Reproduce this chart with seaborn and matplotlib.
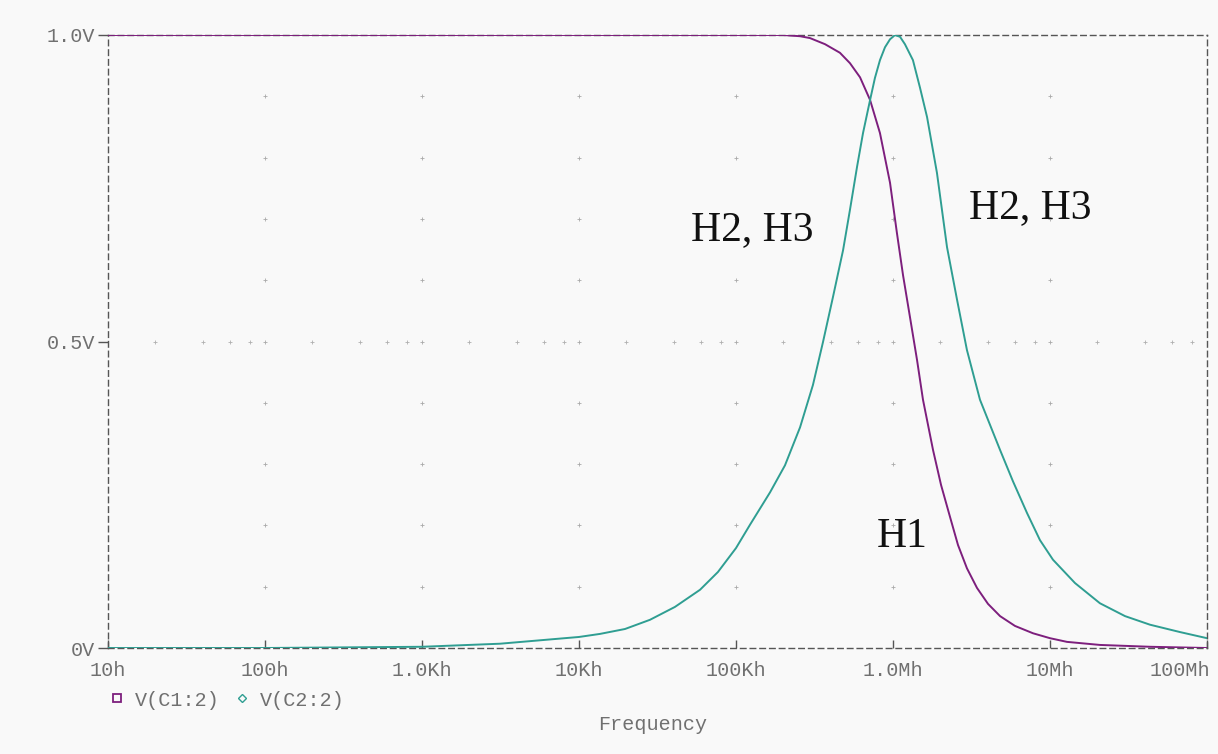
import numpy as np
import pandas as pd
import matplotlib
matplotlib.use("Agg")
import matplotlib.pyplot as plt
import matplotlib.transforms as mtransforms
from matplotlib.lines import Line2D
import seaborn as sns

# ---- data (frequency given as log10(Hz)) ----
logf_c1 = [1.0, 3.0, 5.0, 5.299, 5.408, 5.471, 5.567, 5.662, 5.726, 5.790, 5.854,
           5.917, 5.981, 6.025, 6.064, 6.108, 6.153, 6.191, 6.255, 6.306, 6.363,
           6.414, 6.471, 6.535, 6.605, 6.682, 6.777, 6.892, 7.0, 7.108, 7.318,
           7.637, 8.0]
v_c1 = [1.0, 1.0, 1.0, 1.0, 0.998, 0.995, 0.985, 0.971, 0.954, 0.931, 0.894,
        0.840, 0.759, 0.677, 0.608, 0.540, 0.470, 0.405, 0.323, 0.266, 0.214,
        0.168, 0.130, 0.098, 0.072, 0.052, 0.036, 0.024, 0.016, 0.010, 0.005,
        0.002, 0.0]

logf_c2 = [1.0, 2.0, 3.0, 3.497, 4.0, 4.134, 4.293, 4.452, 4.611, 4.771, 4.885,
           5.0, 5.089, 5.217, 5.312, 5.408, 5.490, 5.554, 5.618, 5.682, 5.726,
           5.771, 5.809, 5.854, 5.885, 5.917, 5.949, 5.981, 6.013, 6.045, 6.076,
           6.127, 6.172, 6.217, 6.280, 6.344, 6.408, 6.471, 6.554, 6.682, 6.764,
           6.854, 6.936, 7.019, 7.159, 7.318, 7.478, 7.637, 7.828, 8.0]
v_c2 = [0.0, 0.0, 0.002, 0.007, 0.018, 0.023, 0.031, 0.046, 0.067, 0.095, 0.124,
        0.163, 0.201, 0.254, 0.298, 0.360, 0.429, 0.499, 0.573, 0.649, 0.715,
        0.785, 0.840, 0.894, 0.930, 0.959, 0.980, 0.993, 1.0, 0.997, 0.985,
        0.959, 0.914, 0.866, 0.775, 0.654, 0.568, 0.486, 0.405, 0.323, 0.272,
        0.220, 0.176, 0.144, 0.106, 0.073, 0.052, 0.038, 0.026, 0.016]

x_ticks = [10, 100, 1e3, 1e4, 1e5, 1e6, 1e7, 1e8]
x_tick_labels = ["10h", "100h", "1.0Kh", "10Kh", "100Kh", "1.0Mh", "10Mh", "100Mh"]
y_ticks = [0.0, 0.5, 1.0]
y_tick_labels = ["0V", "0.5V", "1.0V"]
series_names = ["V(C1:2)", "V(C2:2)"]

annotations = [("H2, H3", 51.6e3, 0.666), ("H2, H3", 3.05e6, 0.701), ("H1", 791e3, 0.165)]

# ---- style ----
sns.set_theme(style="white")
mono = ["Liberation Mono", "DejaVu Sans Mono"]
serif = ["Liberation Serif", "DejaVu Serif"]
plt.rcParams['font.family'] = mono

bg = "#f9f9f9"
purple = "#7d1f7d"
green = "#2f9e92"
gray_txt = "#707070"
frame = "#555555"

fig = plt.figure(figsize=(12.18, 7.54), dpi=100, facecolor=bg)
ax = fig.add_axes([108/1218, 1-648/754, (1207-108)/1218, (648-35)/754])
ax.set_facecolor(bg)

df1 = pd.DataFrame({"f": 10.0 ** np.array(logf_c1), "v": v_c1})
df2 = pd.DataFrame({"f": 10.0 ** np.array(logf_c2), "v": v_c2})

# grid dots
grid_x = [1e2, 1e3, 1e4, 1e5, 1e6, 1e7]
grid_y = [0.1, 0.2, 0.3, 0.4, 0.5, 0.6, 0.7, 0.8, 0.9]
gx, gy = np.meshgrid(grid_x, grid_y)
ax.plot(gx.ravel(), gy.ravel(), ls="none", marker="+", ms=3, mew=0.6, color="#aaaaaa", zorder=1)
minor_x = [m * 10**d for d in range(1, 8) for m in (2, 4, 6, 8)]
ax.plot(minor_x, [0.5]*len(minor_x), ls="none", marker="+", ms=3, mew=0.6, color="#b0b0b0", zorder=1)

sns.lineplot(data=df1, x="f", y="v", ax=ax, color=purple, lw=1.4, sort=False, zorder=3)
sns.lineplot(data=df2, x="f", y="v", ax=ax, color=green, lw=1.4, sort=False, zorder=3)

ax.set_xscale("log")
ax.set_xlim(10, 1e8)
ax.set_ylim(0, 1.0)
ax.set_xticks(x_ticks)
ax.set_xticklabels(x_tick_labels)
ax.minorticks_off()
ax.set_yticks(y_ticks)
ax.set_yticklabels(y_tick_labels)
ax.tick_params(axis="x", direction="in", length=6, width=1, color=frame, pad=9,
               labelsize=14.5, labelcolor=gray_txt, bottom=True)
ax.tick_params(axis="y", direction="out", length=7, width=1, color=frame, pad=2,
               labelsize=14.5, labelcolor=gray_txt, left=True)
ax.set_xlabel("")
ax.set_ylabel("")

# last x label shifted left so it fits (as in the reference)
last = ax.get_xticklabels()[-1]
last.set_horizontalalignment("right")
last.set_transform(last.get_transform() + mtransforms.ScaledTranslation(3/100, 0, fig.dpi_scale_trans))

for s in ax.spines.values():
    s.set_visible(True)
    s.set_color(frame)
    s.set_linewidth(1.0)
    s.set_linestyle((0, (4, 3)))

for text, fx, fy in annotations:
    ax.text(fx, fy, text, family=serif, fontsize=30, color="#111111",
            ha="left", va="baseline", zorder=4)

# legend
handles = [Line2D([], [], ls="none", marker="s", ms=6, mfc="none", mec=purple, mew=1.3),
           Line2D([], [], ls="none", marker="D", ms=4.5, mfc="none", mec=green, mew=1.0)]
fig.legend(handles, series_names, loc="center left", bbox_to_anchor=(109/1218, 1-700/754),
           ncol=2, frameon=False, handlelength=0.8, handletextpad=0.5, columnspacing=0.7,
           prop={"family": mono, "size": 14.5}, labelcolor=gray_txt, borderaxespad=0, borderpad=0)

fig.text(653/1218, 1-725/754, "Frequency", ha="center", va="center",
         family=mono, fontsize=14.5, color=gray_txt)

fig.savefig("out.png", dpi=100, facecolor=bg)
